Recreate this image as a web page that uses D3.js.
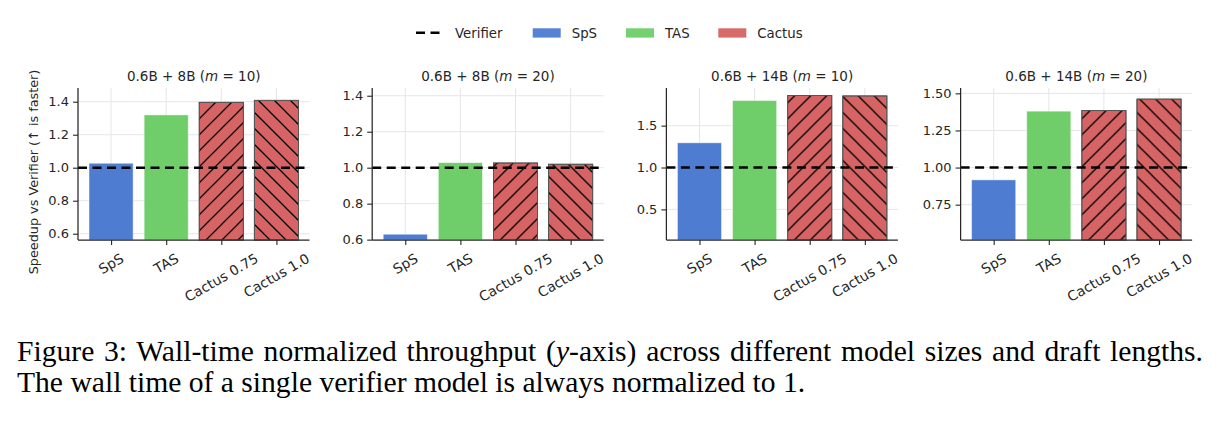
<!DOCTYPE html>
<html>
<head>
<meta charset="utf-8">
<script src="https://cdn.jsdelivr.net/npm/d3@7"></script>
<style>
  html, body { margin: 0; padding: 0; background: #fff; }
  svg { display: block; }
</style>
</head>
<body>
<svg id="chart" width="1219" height="422"></svg>
<script>
// ---- data ----
const categories = ["SpS", "TAS", "Cactus 0.75", "Cactus 1.0"];
const panelTitles = [
  ["0.6B + 8B (", "m", " = 10)"],
  ["0.6B + 8B (", "m", " = 20)"],
  ["0.6B + 14B (", "m", " = 10)"],
  ["0.6B + 14B (", "m", " = 20)"]
];
const speedup_8b_m10  = [1.027, 1.32, 1.396, 1.408];
const speedup_8b_m20  = [0.63, 1.028, 1.026, 1.019];
const speedup_14b_m10 = [1.295, 1.80, 1.86, 1.855];
const speedup_14b_m20 = [0.917, 1.38, 1.384, 1.461];
const panelValues = [speedup_8b_m10, speedup_8b_m20, speedup_14b_m10, speedup_14b_m20];
const yDomains = [[0.562, 1.483], [0.598, 1.443], [0.134, 1.95], [0.512, 1.536]];
const yTicks = [
  [0.6, 0.8, 1.0, 1.2, 1.4],
  [0.6, 0.8, 1.0, 1.2, 1.4],
  [0.5, 1.0, 1.5],
  [0.75, 1.00, 1.25, 1.50]
];
const yTickFormats = [".1f", ".1f", ".1f", ".2f"];
const verifierLevel = 1.0;
const legendLabels = ["Verifier", "SpS", "TAS", "Cactus"];
const captionLines = [
  "Figure 3: Wall-time normalized throughput (y-axis) across different model sizes and draft lengths.",
  "The wall time of a single verifier model is always normalized to 1."
];

const colors = { "SpS": "#4878d0", "TAS": "#6acc64", "Cactus": "#d65f5f" };
const barColor = c => c.startsWith("Cactus") ? colors.Cactus : colors[c];
const FONT = "'DejaVu Sans', sans-serif";
const INK = "#262626";

const svg = d3.select("#chart");

// hatch patterns
const defs = svg.append("defs");
[["hatchF", "M-4,20 L20,-4 M-4,4 L4,-4 M12,20 L20,12"], ["hatchB", "M-4,-4 L20,20 M-4,12 L4,20 M12,-4 L20,4"]].forEach(([id, d]) => {
  const p = defs.append("pattern").attr("id", id).attr("patternUnits", "userSpaceOnUse")
    .attr("width", 16).attr("height", 16);
  p.append("path").attr("d", d).attr("stroke", "#000").attr("stroke-width", 1.3).attr("fill", "none");
});
const hatchFor = c => c === "Cactus 0.75" ? "url(#hatchF)" : (c === "Cactus 1.0" ? "url(#hatchB)" : null);

// layout
const axTop = 88, axBottom = 240, axW = 231.5, axLeft0 = 78, axStep = 294.2;

panelValues.forEach((vals, i) => {
  const left = axLeft0 + i * axStep;
  const g = svg.append("g").attr("transform", `translate(${left},0)`);

  const x = d3.scaleLinear().domain([-0.6, 3.6]).range([0, axW]);
  const y = d3.scaleLinear().domain(yDomains[i]).range([axBottom, axTop]);

  // grid
  g.append("g").selectAll("line").data(yTicks[i]).join("line")
    .attr("x1", 0).attr("x2", axW).attr("y1", d => y(d)).attr("y2", d => y(d))
    .attr("stroke", "#e6e6e6").attr("stroke-width", 1);
  g.append("g").selectAll("line").data(categories).join("line")
    .attr("x1", (d, j) => x(j)).attr("x2", (d, j) => x(j)).attr("y1", axTop).attr("y2", axBottom)
    .attr("stroke", "#e6e6e6").attr("stroke-width", 1);

  // bars
  const bars = g.append("g").selectAll("g").data(categories).join("g");
  bars.append("rect")
    .attr("x", (d, j) => x(j - 0.4)).attr("width", x(0.8) - x(0))
    .attr("y", (d, j) => y(vals[j])).attr("height", (d, j) => axBottom - y(vals[j]))
    .attr("fill", d => barColor(d)).attr("fill-opacity", 0.97)
    .attr("stroke", d => d.startsWith("Cactus") ? "#555" : "rgba(255,255,255,0.5)")
    .attr("stroke-width", 0.9);
  bars.filter(d => d.startsWith("Cactus")).append("rect")
    .attr("x", d => x(categories.indexOf(d) - 0.4)).attr("width", x(0.8) - x(0))
    .attr("y", d => y(vals[categories.indexOf(d)])).attr("height", d => axBottom - y(vals[categories.indexOf(d)]))
    .attr("fill", d => hatchFor(d)).attr("stroke", "#555").attr("stroke-width", 0.9);

  // verifier line
  g.append("line")
    .attr("x1", 0).attr("x2", axW).attr("y1", y(verifierLevel)).attr("y2", y(verifierLevel))
    .attr("stroke", "#000").attr("stroke-width", 2.5).attr("stroke-dasharray", "9,5.5");

  // y axis
  g.append("g")
    .call(d3.axisLeft(y).tickValues(yTicks[i]).tickFormat(d3.format(yTickFormats[i])).tickSize(5).tickPadding(4))
    .call(ax => {
      ax.select(".domain").attr("stroke", INK).attr("stroke-width", 1.25).attr("d", `M0,${axTop}V${axBottom}`);
      ax.selectAll(".tick line").attr("stroke", INK).attr("stroke-width", 1.1);
      ax.selectAll(".tick text").style("fill", INK).style("font-size", "13px").style("font-family", FONT);
    });

  // x axis
  g.append("g").attr("transform", `translate(0,${axBottom})`)
    .call(d3.axisBottom(x).tickValues([0, 1, 2, 3]).tickFormat("").tickSize(5))
    .call(ax => {
      ax.select(".domain").attr("stroke", INK).attr("stroke-width", 1.25).attr("d", `M0,0H${axW}`);
      ax.selectAll(".tick line").attr("stroke", INK).attr("stroke-width", 1.1);
    });
  categories.forEach((c, j) => {
    const t = g.append("text").text(c)
      .attr("text-anchor", "middle").attr("dominant-baseline", "central")
      .style("fill", INK).style("font-size", "13.8px").style("font-family", FONT);
    const w = t.node().getComputedTextLength();
    const hBox = w * 0.5 + 16 * 0.866;
    t.attr("transform", `translate(${x(j)},${axBottom + 10 + hBox / 2}) rotate(-30)`);
  });

  // title
  const tt = g.append("text").attr("x", axW / 2).attr("y", 80.5).attr("text-anchor", "middle")
    .style("fill", INK).style("font-size", "13.5px").style("font-family", FONT);
  panelTitles[i].forEach((s, k) => {
    tt.append("tspan").text(s).style("font-style", k === 1 ? "italic" : "normal");
  });
});

// y label
svg.append("text")
  .attr("transform", "translate(38,172) rotate(-90)")
  .attr("text-anchor", "middle")
  .style("fill", INK).style("font-size", "12.8px").style("font-family", FONT)
  .text("Speedup vs Verifier (\u2191 is faster)");

// legend
const lg = svg.append("g");
const legendX = [416, 532.7, 626, 718.3];
legendLabels.forEach((l, k) => {
  const x0 = legendX[k];
  if (k === 0) {
    lg.append("line").attr("x1", x0).attr("x2", x0 + 27).attr("y1", 32.7).attr("y2", 32.7)
      .attr("stroke", "#000").attr("stroke-width", 2.5).attr("stroke-dasharray", "9,5.5");
  } else {
    lg.append("rect").attr("x", x0).attr("y", 28.3).attr("width", 28).attr("height", 9.3)
      .attr("fill", colors[l]).attr("fill-opacity", 0.93);
  }
  lg.append("text").attr("x", x0 + 39).attr("y", 37.5).text(l)
    .style("fill", INK).style("font-size", "13.3px").style("font-family", FONT);
});

// caption (first line justified to the text width, as in the paper)
const captionRight = 1203;
captionLines.forEach((line, k) => {
  const t = svg.append("text").attr("x", 17).attr("y", 361 + k * 31)
    .style("fill", "#000").style("font-size", "29.6px").style("font-family", "'Liberation Serif', 'Times New Roman', serif");
  if (k === 0) {
    const parts = line.split("y-axis");
    t.append("tspan").text(parts[0]);
    t.append("tspan").text("y").style("font-style", "italic");
    t.append("tspan").text("-axis" + parts[1]);
    const natural = t.node().getComputedTextLength();
    const gaps = line.split(" ").length - 1;
    t.style("word-spacing", Math.max(0, (captionRight - 17 - natural) / gaps) + "px");
  } else {
    t.text(line);
  }
});
</script>
</body>
</html>
